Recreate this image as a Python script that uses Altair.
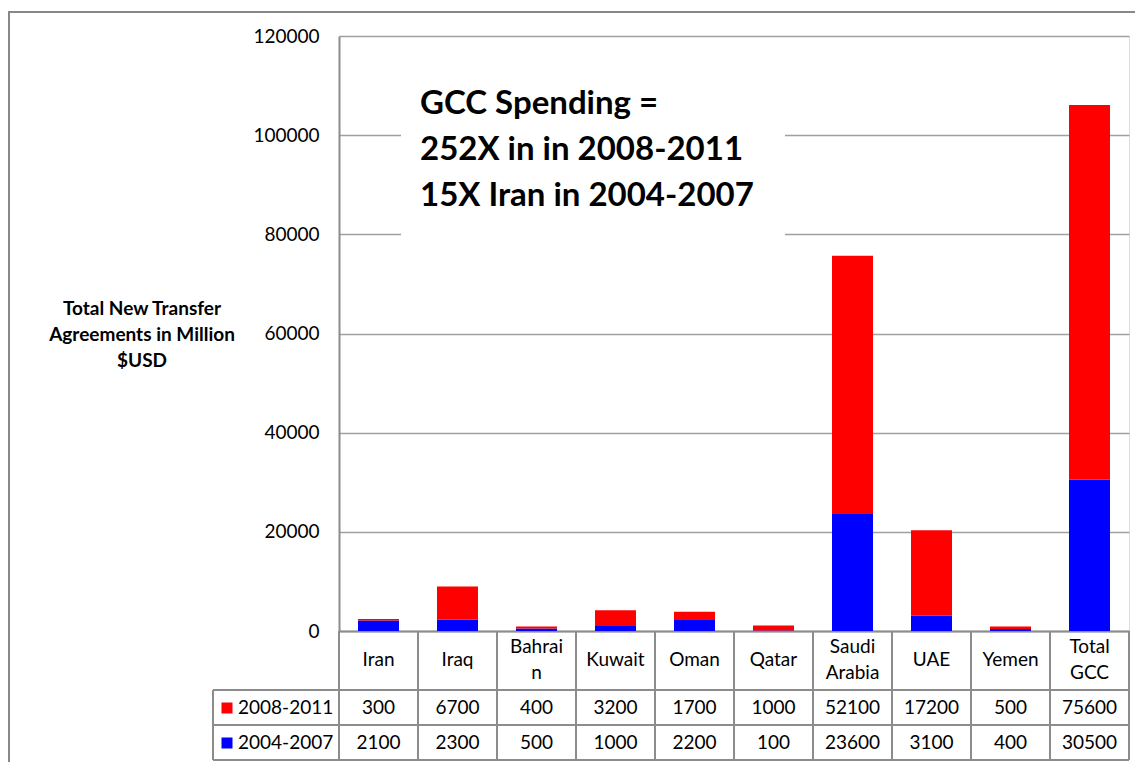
import altair as alt
import pandas as pd

categories = ["Iran", "Iraq", "Bahrain", "Kuwait", "Oman", "Qatar",
              "Saudi Arabia", "UAE", "Yemen", "Total GCC"]
header_labels = ["Iran", "Iraq", "Bahrai\nn", "Kuwait", "Oman", "Qatar",
                 "Saudi\nArabia", "UAE", "Yemen", "Total\nGCC"]
periods = ["2008-2011", "2004-2007"]
colors = ["#FF0000", "#0000FF"]
v2008 = [300, 6700, 400, 3200, 1700, 1000, 52100, 17200, 500, 75600]
v2004 = [2100, 2300, 500, 1000, 2200, 100, 23600, 3100, 400, 30500]
y_ticks = [0, 20000, 40000, 60000, 80000, 100000, 120000]
annotation = "GCC Spending =\n252X in in 2008-2011\n15X Iran in 2004-2007"
y_title = "Total New Transfer\nAgreements in Million\n$USD"

FONT = "Lato"
FS = 19
W, H = 790, 595
LINE = "#8c8c8c"

rows = []
for c, a, b in zip(categories, v2004, v2008):
    rows.append({"cat": c, "period": "2004-2007", "value": a, "ord": 0})
    rows.append({"cat": c, "period": "2008-2011", "value": b, "ord": 1})
bars_df = pd.DataFrame(rows)
cat_df = pd.DataFrame({"cat": categories, "label": header_labels,
                       "nlines": [l.count("\n") + 1 for l in header_labels],
                       "v2008": v2008, "v2004": v2004})
leg_df = pd.DataFrame({"period": periods, "row": [0, 1]})

xscale = alt.Scale(domain=categories, paddingInner=0, paddingOuter=0)
cscale = alt.Scale(domain=periods, range=colors)
rowscale = alt.Scale(domain=[0, 1], range=[672, 707])

one = cat_df.head(1)

frame_t = alt.Chart(one).mark_rect(color="#888888").encode(
    x=alt.value(-331), x2=alt.value(840),
    y=alt.value(-25), y2=alt.value(-23))
frame_l = alt.Chart(one).mark_rect(color="#888888").encode(
    x=alt.value(-331), x2=alt.value(-329),
    y=alt.value(-25), y2=alt.value(800))

bars = alt.Chart(bars_df).mark_bar(width=41).encode(
    x=alt.X("cat:N", scale=xscale, sort=categories,
            axis=alt.Axis(labels=False, ticks=False, title=None,
                          domainColor=LINE, domainWidth=2)),
    y=alt.Y("value:Q", stack="zero",
            scale=alt.Scale(domain=[0, 120000], nice=False),
            axis=alt.Axis(values=y_ticks, format="d", title=None, ticks=False,
                          labelPadding=20, labelFontSize=FS, labelFont=FONT,
                          labelColor="black", grid=True, gridColor="#a0a0a0",
                          gridWidth=1.5, domainColor=LINE, domainWidth=2)),
    color=alt.Color("period:N", scale=cscale, legend=None),
    order=alt.Order("ord:Q", sort="ascending"),
)

box = alt.Chart(one).mark_rect(color="white").encode(
    x=alt.value(62), x2=alt.value(446), y=alt.value(34), y2=alt.value(210))
ann = alt.Chart(one).mark_text(
    align="left", baseline="alphabetic", font=FONT, fontWeight="bold",
    fontSize=33, lineBreak="\n", lineHeight=46, color="black"
).encode(x=alt.value(81), y=alt.value(78), text=alt.value(annotation))

ytitle = alt.Chart(one).mark_text(
    align="center", baseline="middle", font=FONT, fontWeight="bold",
    fontSize=19, lineBreak="\n", lineHeight=26, color="black"
).encode(x=alt.value(-197), y=alt.value(273), text=alt.value(y_title))

header1 = alt.Chart(cat_df).transform_filter("datum.nlines == 1").mark_text(
    align="center", baseline="middle", font=FONT, fontSize=FS, color="black"
).encode(x=alt.X("cat:N", sort=categories), y=alt.value(624), text="label:N")
header2 = alt.Chart(cat_df).transform_filter("datum.nlines == 2").mark_text(
    align="center", baseline="middle", font=FONT, fontSize=FS,
    lineBreak="\n", lineHeight=26, color="black"
).encode(x=alt.X("cat:N", sort=categories), y=alt.value(611), text="label:N")

row1 = alt.Chart(cat_df).mark_text(
    align="center", baseline="middle", font=FONT, fontSize=FS, color="black"
).encode(x=alt.X("cat:N", sort=categories), y=alt.value(672), text="v2008:Q")
row2 = alt.Chart(cat_df).mark_text(
    align="center", baseline="middle", font=FONT, fontSize=FS, color="black"
).encode(x=alt.X("cat:N", sort=categories), y=alt.value(707), text="v2004:Q")

vlines = alt.Chart(cat_df).mark_rule(color=LINE, strokeWidth=2).encode(
    x=alt.X("cat:N", sort=categories, bandPosition=0),
    y=alt.value(H), y2=alt.value(724))
vright = alt.Chart(cat_df.tail(1)).mark_rule(color=LINE, strokeWidth=2).encode(
    x=alt.X("cat:N", sort=categories, bandPosition=1),
    y=alt.value(H), y2=alt.value(724))
hline_df = pd.DataFrame({"y": [654, 689, 724]})
hlines = alt.Chart(hline_df).mark_rule(color=LINE, strokeWidth=2).encode(
    x=alt.value(-126), x2=alt.value("width"), y=alt.Y("y:Q", scale=None))
vleft = alt.Chart(one).mark_rule(color=LINE, strokeWidth=2).encode(
    x=alt.value(-126), y=alt.value(654), y2=alt.value(724))

leg_sq = alt.Chart(leg_df).mark_square(size=121, opacity=1).encode(
    x=alt.value(-112),
    y=alt.Y("row:Q", scale=rowscale, axis=None),
    color=alt.Color("period:N", scale=cscale, legend=None))
leg_tx = alt.Chart(leg_df).mark_text(
    align="left", baseline="middle", font=FONT, fontSize=FS, color="black"
).encode(
    x=alt.value(-101),
    y=alt.Y("row:Q", scale=rowscale, axis=None),
    text="period:N")

chart = alt.layer(
    frame_t, frame_l, bars, box, ann, ytitle, header1, header2, row1, row2,
    vlines, vright, hlines, vleft, leg_sq, leg_tx
).resolve_scale(y="independent").properties(
    width=W, height=H,
    autosize=alt.AutoSizeParams(type="none"),
    padding={"left": 331, "top": 28, "right": 6, "bottom": 131},
).configure_view(stroke=None).configure(background="white")

chart.save("out.html", embed_options={"renderer": "svg", "actions": False})
